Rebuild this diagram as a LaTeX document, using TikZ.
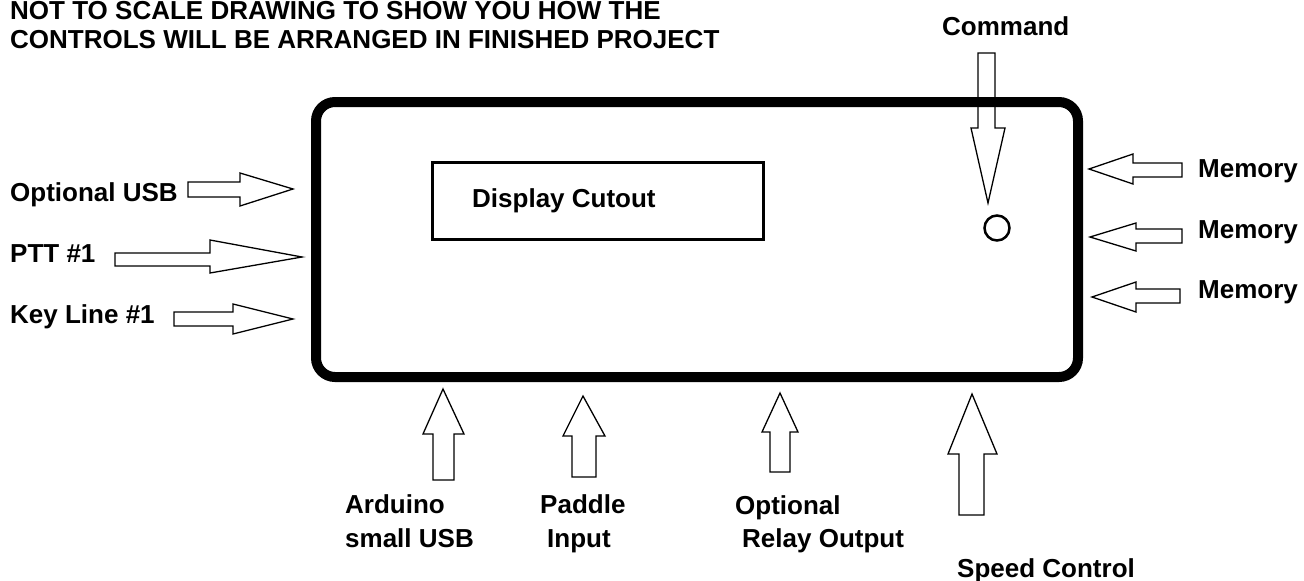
\documentclass[tikz,border=0pt]{standalone}
\usepackage{fontspec}
\setmainfont{Liberation Sans}
\begin{document}
\begin{tikzpicture}[x=1pt,y=-1pt,
  lbl/.style={anchor=base west,inner sep=0pt,font=\fontsize{26}{33}\selectfont\bfseries},
  blockarrow/.style={draw=black,fill=white,line width=1.3pt,line join=miter},
  casing/.style={draw=black,line width=10pt,rounded corners=19pt},
  cutout/.style={draw=black,line width=3pt}]
\useasboundingbox (0,0) rectangle (1304,581);

% heading
\node[lbl] (head1) at (10,19.5) {NOT TO SCALE DRAWING TO SHOW YOU HOW THE};
\node[lbl] (head2) at (10,48) {CONTROLS WILL BE ARRANGED IN FINISHED PROJECT};

% command button arrow (drawn below the casing outline)
\path[blockarrow] (978,53) -- (995,53) -- (995,128) -- (1005,128) -- (988,203)
  -- (971,128) -- (978,128) -- cycle;

% enclosure
\path[casing] (316,102) rectangle (1078,377);
\node[cutout,minimum width=331pt,minimum height=77pt,inner sep=0pt] (display) at (597.5,200.5) {};
\node[lbl] (displaytext) at (472,207) {Display Cutout};
\node[draw=black,line width=2.5pt,circle,minimum size=25pt,inner sep=0pt] (button) at (997,228) {};
\node[lbl] (command) at (942,35) {Command};

% left side inputs
\path[blockarrow] (188,182) -- (240,182) -- (240,173) -- (293,189) -- (240,206) -- (240,197) -- (188,197) -- cycle;
\path[blockarrow] (115,253) -- (210,253) -- (210,240) -- (302,257) -- (210,273) -- (210,266) -- (115,266) -- cycle;
\path[blockarrow] (174,312) -- (233,312) -- (233,304) -- (293,319) -- (233,334) -- (233,326) -- (174,326) -- cycle;
\node[lbl] (usb) at (10,201) {Optional USB};
\node[lbl] (ptt) at (10,262) {PTT \#1};
\node[lbl] (key) at (10,323) {Key Line \#1};

% right side memory buttons
\path[blockarrow] (1182,163) -- (1133,163) -- (1133,154) -- (1089,169) -- (1133,184) -- (1133,177) -- (1182,177) -- cycle;
\path[blockarrow] (1182,229) -- (1136,229) -- (1136,223) -- (1090,237) -- (1136,251) -- (1136,243) -- (1182,243) -- cycle;
\path[blockarrow] (1180,289) -- (1136,289) -- (1136,282) -- (1092,297) -- (1136,312) -- (1136,303) -- (1180,303) -- cycle;
\node[lbl] (mem1) at (1198,177) {Memory};
\node[lbl] (mem2) at (1198,238) {Memory};
\node[lbl] (mem3) at (1198,298) {Memory};

% bottom connectors
\path[blockarrow] (433,480) -- (433,434) -- (423,434) -- (443,389) -- (464,434) -- (454,434) -- (454,480) -- cycle;
\path[blockarrow] (572,477) -- (572,436) -- (563,436) -- (583,396) -- (605,436) -- (596,436) -- (596,477) -- cycle;
\path[blockarrow] (770,472) -- (770,432) -- (762,432) -- (780,393) -- (798,432) -- (790,432) -- (790,472) -- cycle;
\path[blockarrow] (959,515) -- (959,454) -- (948,454) -- (972,394) -- (997,454) -- (984,454) -- (984,515) -- cycle;
\node[lbl] (ard1) at (345,513) {Arduino};
\node[lbl] (ard2) at (345,547) {small USB};
\node[lbl] (pad1) at (540,513) {Paddle};
\node[lbl] (pad2) at (547,547) {Input};
\node[lbl] (rel1) at (735,514) {Optional};
\node[lbl] (rel2) at (742,547) {Relay Output};
\node[lbl] (speed) at (957,577) {Speed Control};
\end{tikzpicture}
\end{document}
